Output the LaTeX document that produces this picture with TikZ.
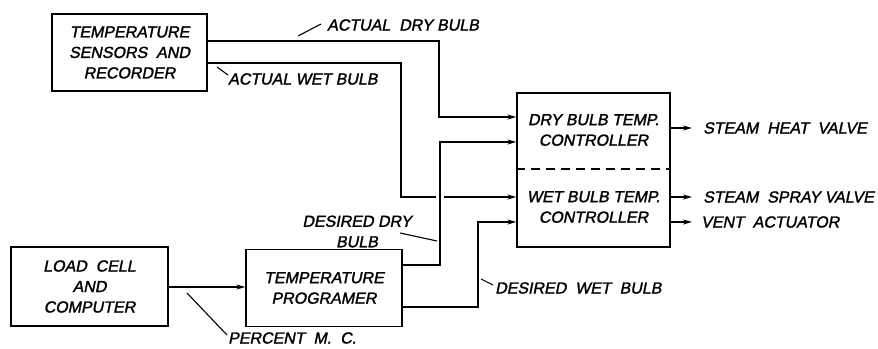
\documentclass[tikz,border=0pt]{standalone}
\usepackage{fontspec}
\setmainfont{Liberation Sans}
\newfontfamily\lettering[FakeBold=1.6,FakeSlant=0.2]{Liberation Sans}
\usetikzlibrary{arrows.meta}
\begin{document}
\begin{tikzpicture}[x=1pt,y=-1pt,
  every node/.style={font=\fontsize{16}{20.5}\lettering},
  blk/.style={draw,line width=1.3pt,align=center,inner sep=0pt},
  wire/.style={line width=1.3pt},
  arr/.style={wire,-{Stealth[length=9pt,width=5pt]}},
  lead/.style={line width=1.1pt},
  lbl/.style={anchor=west,inner sep=0pt}]
\useasboundingbox (0,0) rectangle (878,348);
% blocks
\node[blk,minimum width=155pt,minimum height=77pt] (sens) at (129.5,52.5) {TEMPERATURE\\SENSORS~ AND\\RECORDER};
\node[blk,minimum width=153pt,minimum height=154pt] (ctrl) at (593.5,170) {};
\node[blk,minimum width=157pt,minimum height=79pt] (load) at (89.5,286.5) {LOAD~ CELL\\AND\\COMPUTER};
\node[blk,minimum width=156pt,minimum height=77pt] (prog) at (324,288) {TEMPERATURE\\PROGRAMER};
% controller texts and divider
\node[align=center,inner sep=0pt] (ctxt1) at (593.5,130) {DRY BULB TEMP.\\CONTROLLER};
\node[align=center,inner sep=0pt] (ctxt2) at (593.5,207) {WET BULB TEMP.\\CONTROLLER};
\draw[wire,dashed,dash pattern=on 9pt off 6pt] (ctrl.west |- 0,169) -- (ctrl.east |- 0,169);
% y levels
\coordinate (yAD) at (0,41);
\coordinate (yAW) at (0,63);
\coordinate (yDD) at (0,265);
\coordinate (yDW) at (0,307);
\coordinate (yI1) at (0,117);
\coordinate (yI2) at (0,142);
\coordinate (yI3) at (0,197);
\coordinate (yI4) at (0,222);
\coordinate (yO1) at (0,128);
\coordinate (yO2) at (0,197);
\coordinate (yO3) at (0,222);
\coordinate (yLP) at (0,287);
% corner points
\coordinate (cAD1) at (439,41);
\coordinate (cAW1) at (401,63);
\coordinate (cAW2) at (401,197);
\coordinate (gapL) at (436,197);
\coordinate (gapR) at (444,197);
\coordinate (cDD1) at (440,265);
\coordinate (cDW1) at (478,307);
% connectors
\draw[arr] (sens.east |- yAD) -- (cAD1) |- (ctrl.west |- yI1);
\draw[wire] (sens.east |- yAW) -- (cAW1) -- (cAW2) -- (gapL);
\draw[arr] (gapR) -- (ctrl.west |- yI3);
\draw[arr] (prog.east |- yDD) -- (cDD1) |- (ctrl.west |- yI2);
\draw[arr] (prog.east |- yDW) -- (cDW1) |- (ctrl.west |- yI4);
\draw[arr] (load.east |- yLP) -- (prog.west |- yLP);
% outputs
\coordinate (o1) at (692,128);
\coordinate (o2) at (692,197);
\coordinate (o3) at (692,222);
\draw[arr] (ctrl.east |- yO1) -- (o1);
\draw[arr] (ctrl.east |- yO2) -- (o2);
\draw[arr] (ctrl.east |- yO3) -- (o3);
\node[lbl] (t1) at (703,128) {STEAM~ HEAT~ VALVE};
\node[lbl] (t2) at (703,197) {STEAM~ SPRAY VALVE};
\node[lbl] (t3) at (701,222) {VENT~ ACTUATOR};
% signal labels
\node[lbl] (lAD) at (327,25) {ACTUAL~ DRY BULB};
\node[lbl] (lAW) at (228,79) {ACTUAL WET BULB};
\node[align=center,inner sep=0pt] (lDD) at (357,231.5) {DESIRED DRY\\BULB};
\node[lbl] (lDW) at (495,288) {DESIRED~ WET~ BULB};
\node[lbl] (lPC) at (228,338) {PERCENT~ M.~ C.};
% leaders
\coordinate (a1) at (298,36);  \coordinate (a2) at (321,24);
\coordinate (b1) at (217,67);  \coordinate (b2) at (228,75);
\coordinate (d1) at (400,233); \coordinate (d2) at (437,241);
\coordinate (e1) at (481,279); \coordinate (e2) at (493,285);
\coordinate (p1) at (187,293); \coordinate (p2) at (227,335);
\draw[lead] (a1) -- (a2);
\draw[lead] (b1) -- (b2);
\draw[lead] (d1) -- (d2);
\draw[lead] (e1) -- (e2);
\draw[lead] (p1) -- (p2);
\end{tikzpicture}
\end{document}
